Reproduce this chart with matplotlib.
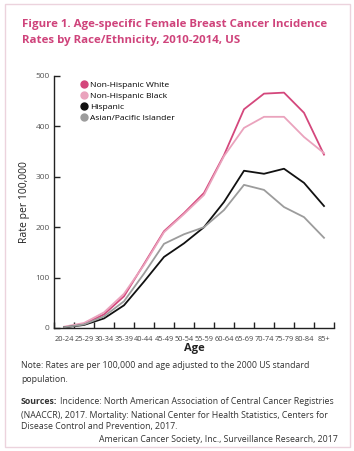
import matplotlib.pyplot as plt
import numpy as np
from matplotlib.patches import Rectangle

ages = ['20-24', '25-29', '30-34', '35-39', '40-44', '45-49', '50-54',
        '55-59', '60-64', '65-69', '70-74', '75-79', '80-84', '85+']

nh_white = [1.6, 8, 27, 63, 127, 192, 228, 268, 343, 434, 465, 467, 427, 344]
nh_black = [2.5, 10, 31, 68, 125, 190, 226, 264, 341, 397, 419, 419, 379, 347]
hispanic = [1.2, 6, 19, 45, 92, 141, 168, 200, 250, 312, 306, 316, 288, 242]
asian_pi = [1.4, 7, 23, 53, 108, 167, 186, 200, 234, 284, 274, 240, 220, 179]

series = [
    ('Non-Hispanic White', nh_white, '#d4477c'),
    ('Non-Hispanic Black', nh_black, '#eaa3bd'),
    ('Hispanic', hispanic, '#111111'),
    ('Asian/Pacific Islander', asian_pi, '#9c9c9c'),
]

plt.rcParams['font.family'] = ['Open Sans', 'DejaVu Sans']

W, H = 354, 451
fig = plt.figure(figsize=(W / 100, H / 100), dpi=100)
renderer = fig.canvas.get_renderer()

# light pink frame round the whole figure
fig.patches.append(Rectangle((5 / W, 4 / H), 345 / W, 443 / H, transform=fig.transFigure,
                             fill=False, edgecolor='#ecd3dd', linewidth=1.0))

ax = fig.add_axes([54 / W, 1 - 328 / H, 280 / W, 252 / H])
x = np.arange(len(ages))
for name, vals, color in series:
    ax.plot(x, vals, color=color, linewidth=1.3, label=name)

ax.set_xlim(-0.5, len(ages) - 0.5)
ax.set_ylim(0, 500)
ax.spines['top'].set_visible(False)
ax.spines['right'].set_visible(False)
for s in ('left', 'bottom'):
    ax.spines[s].set_linewidth(1.0)
    ax.spines[s].set_color('#222222')

ax.set_xticks(x)
ax.set_xticklabels(ages, fontsize=5.3, color='#444444')
ax.set_xticks(np.arange(-0.5, len(ages), 1.0), minor=True)
ax.tick_params(axis='x', which='major', length=0, pad=6)
ax.tick_params(axis='x', which='minor', direction='in', length=4, width=1.0, color='#222222')
ax.set_yticks([0, 100, 200, 300, 400, 500])
ax.tick_params(axis='y', direction='in', length=4, width=1.0, color='#222222',
               labelsize=6, labelcolor='#555555', pad=3)

ax.set_ylabel('Rate per 100,000', fontsize=7.5, color='#222222', labelpad=4)
ax.set_xlabel('Age', fontsize=8, fontweight='bold', color='#222222', labelpad=0)

leg = ax.legend(loc='upper left', bbox_to_anchor=(0.08, 1.0), frameon=False,
                fontsize=6.1, handlelength=0.6, handletextpad=0.4, labelspacing=0.35,
                borderaxespad=0.2)
for h in leg.legend_handles:
    h.set_linestyle('none')
    h.set_marker('o')
    h.set_markersize(5)


def fit_text(xp, yp, s, width_px, **kw):
    t = fig.text(xp / W, 1 - yp / H, s, va='center', **kw)
    w = t.get_window_extent(renderer).width
    t.set_fontsize(t.get_fontsize() * width_px / w)
    return t


title_color = '#cf437b'
t1 = fit_text(22, 24, 'Figure 1. Age-specific Female Breast Cancer Incidence', 303,
              fontsize=9, fontweight='bold', color=title_color)
fig.text(22 / W, 1 - 41 / H, 'Rates by Race/Ethnicity, 2010-2014, US',
         fontsize=t1.get_fontsize(), fontweight='bold', color=title_color, va='center')

note_color = '#333333'
fs = 6.3
fig.text(21 / W, 1 - 366 / H, 'Note: Rates are per 100,000 and age adjusted to the 2000 US standard',
         fontsize=fs, color=note_color, va='center')
fig.text(21 / W, 1 - 379 / H, 'population.', fontsize=fs, color=note_color, va='center')
src = fig.text(21 / W, 1 - 402 / H, 'Sources:', fontsize=fs, color=note_color,
               va='center', fontweight='bold')
src_right = src.get_window_extent(renderer).x1
fig.text((src_right + 3) / W, 1 - 402 / H,
         'Incidence: North American Association of Central Cancer Registries',
         fontsize=fs, color=note_color, va='center')
fig.text(21 / W, 1 - 415 / H, '(NAACCR), 2017. Mortality: National Center for Health Statistics, Centers for',
         fontsize=fs, color=note_color, va='center')
fig.text(21 / W, 1 - 427 / H, 'Disease Control and Prevention, 2017.',
         fontsize=fs, color=note_color, va='center')
fig.text(338 / W, 1 - 440 / H, 'American Cancer Society, Inc., Surveillance Research, 2017',
         fontsize=fs, color=note_color, va='center', ha='right')

fig.savefig('out.png', dpi=100)
